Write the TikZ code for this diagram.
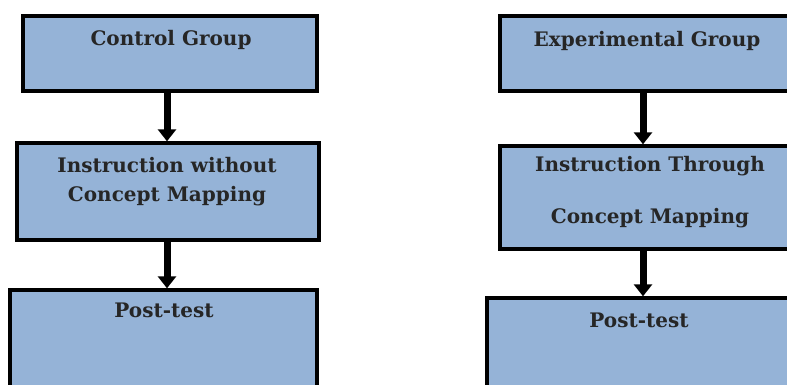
\documentclass[tikz,border=0pt]{standalone}
\usepackage{fontspec}
\setmainfont{DejaVu Serif}
\usetikzlibrary{arrows.meta}
\definecolor{boxblue}{HTML}{95B3D7}
\tikzset{
  box/.style={draw=black, fill=boxblue, line width=3.4pt, rectangle, inner sep=0pt},
  lbl/.style={font=\fontsize{20}{22}\selectfont\bfseries, text=black!85, inner sep=0pt, anchor=center},
  arr/.style={line width=7pt, -{Triangle[width=18pt,length=12pt]}, black}
}
\begin{document}
\begin{tikzpicture}[x=1pt,y=-1pt]
\clip (0,0) rectangle (787,385);
\fill[white] (0,0) rectangle (787,385);
% left column
\node[box, minimum width=294pt, minimum height=75pt] (c1) at (170,53.5) {};
\node[box, minimum width=302pt, minimum height=97pt] (c2) at (168,191.5) {};
\node[box, minimum width=307pt, minimum height=110pt] (c3) at (163.5,345) {};
\coordinate (lx) at (167,0);
\node[lbl] (tc1) at (171,40) {Control Group};
\node[lbl] (tc2a) at (167,165) {Instruction without};
\node[lbl] (tc2b) at (167,196.5) {Concept Mapping};
\node[lbl] (tc3) at (164,310.5) {Post-test};
\draw[arr] (c1.south -| lx) -- (c2.north -| lx);
\draw[arr] (c2.south -| lx) -- (c3.north -| lx);
% right column
\node[box, minimum width=310pt, minimum height=75pt] (e1) at (655,53.5) {};
\node[box, minimum width=310pt, minimum height=103pt] (e2) at (655,197.5) {};
\node[box, minimum width=323pt, minimum height=102pt] (e3) at (648.5,349) {};
\coordinate (rx) at (643,0);
\node[lbl] (te1) at (647,40.5) {Experimental Group};
\node[lbl] (te2a) at (650,166.5) {Instruction Through};
\node[lbl] (te2b) at (650,218.5) {Concept Mapping};
\node[lbl] (te3) at (639,320.5) {Post-test};
\draw[arr] ([yshift=2pt]e1.south -| rx) -- (e2.north -| rx);
\draw[arr] (e2.south -| rx) -- (e3.north -| rx);
\end{tikzpicture}
\end{document}
